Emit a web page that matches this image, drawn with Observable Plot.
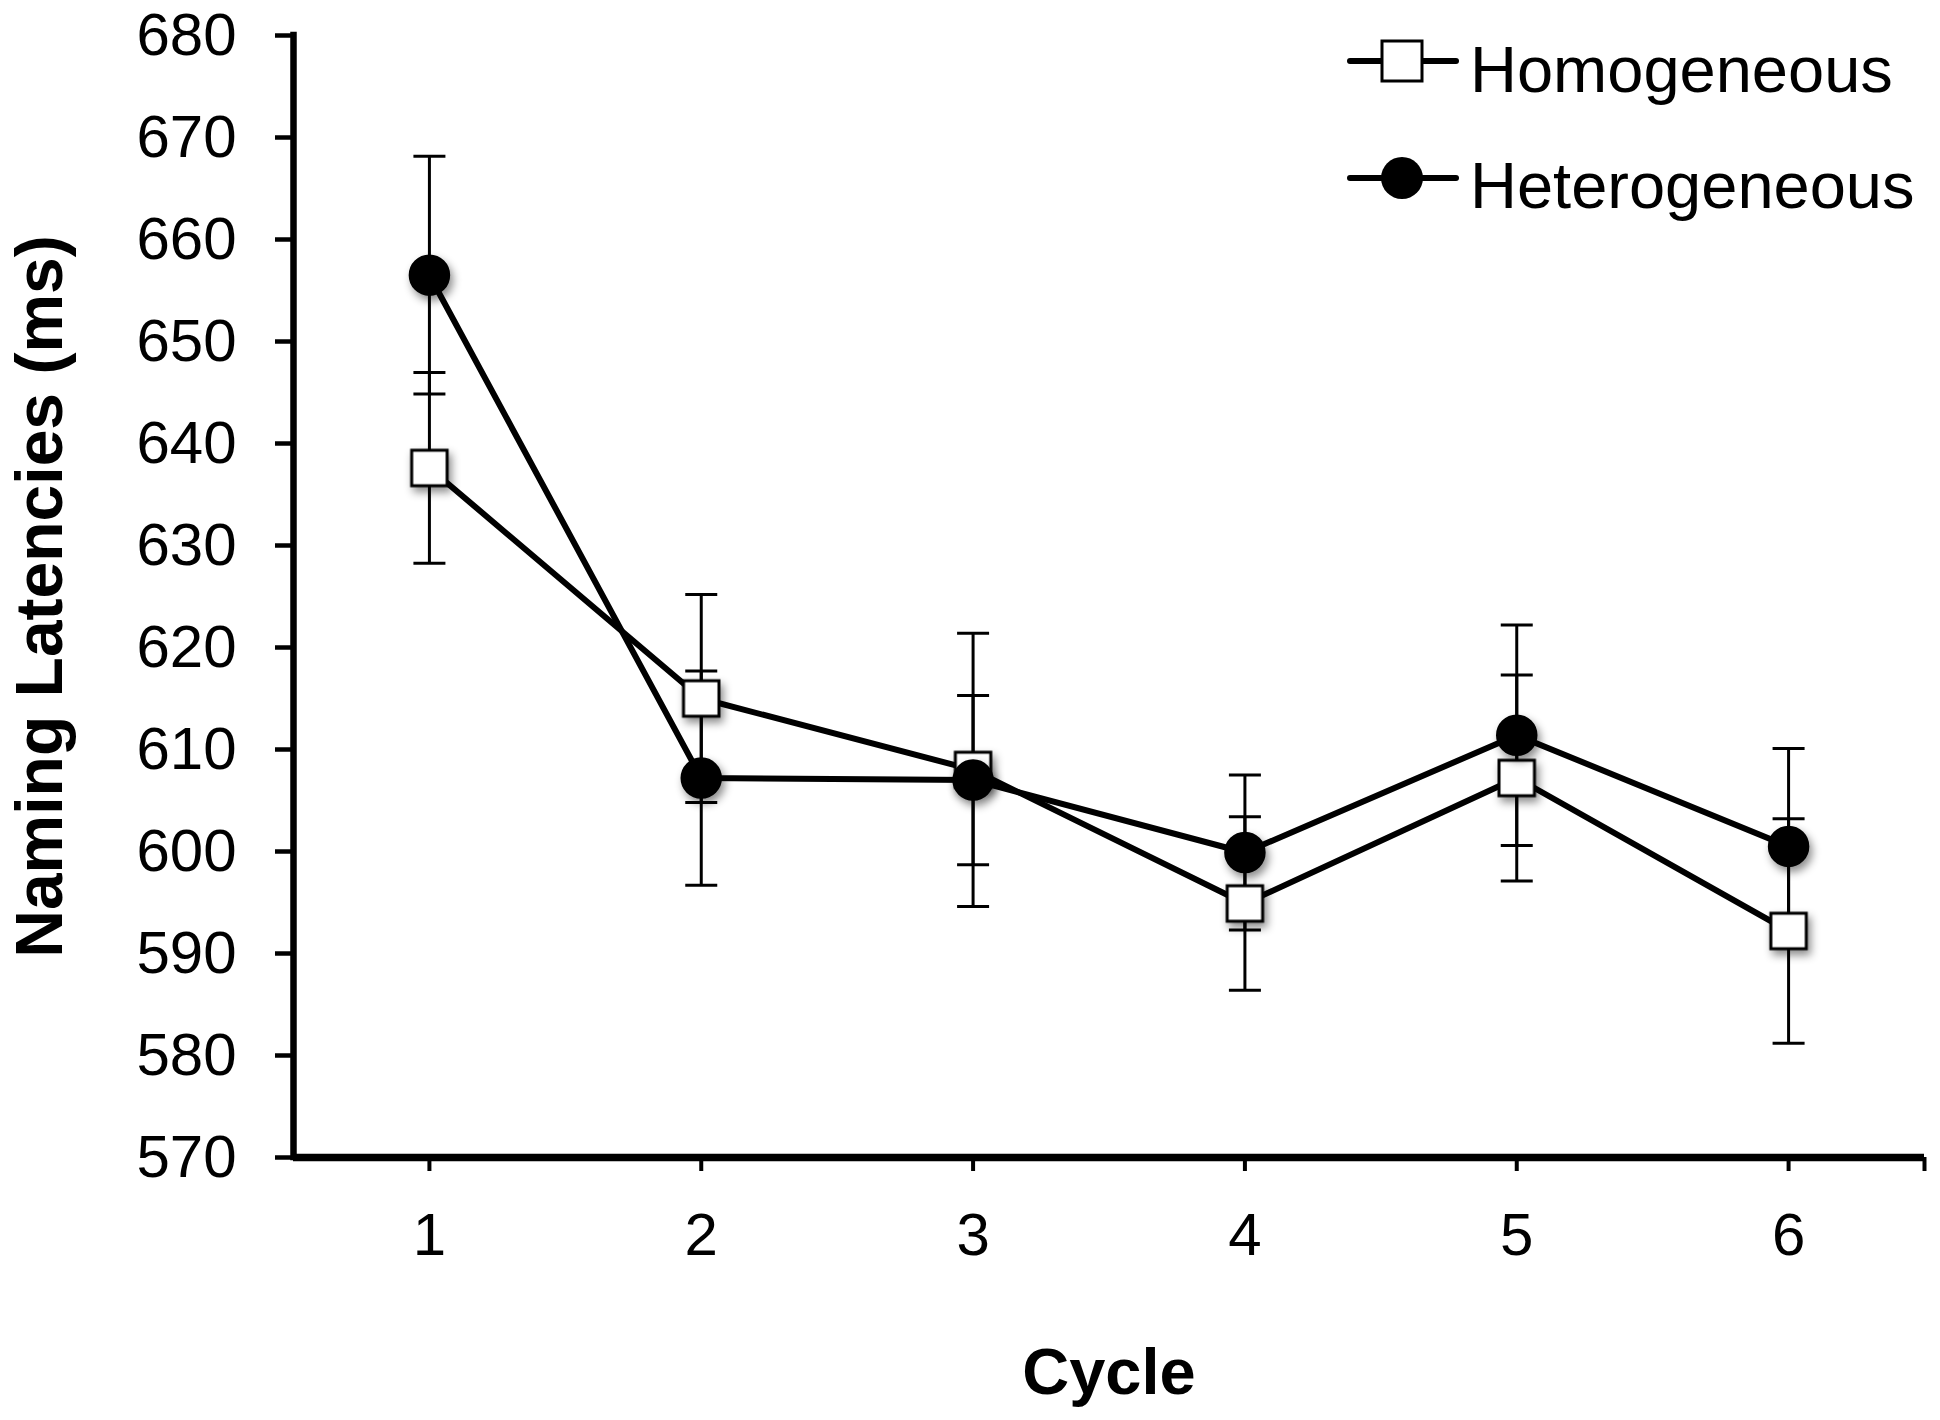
<!DOCTYPE html>
<html>
<head>
<meta charset="utf-8">
<script src="https://cdn.jsdelivr.net/npm/d3@7"></script>
<script src="https://cdn.jsdelivr.net/npm/@observablehq/plot@0.6"></script>
<style>
  html, body { margin: 0; padding: 0; background: #fff; }
  #wrap { position: relative; width: 1940px; height: 1420px; font-family: "Liberation Sans", Arial, sans-serif; }
  #legend { position: absolute; left: 0; top: 0; pointer-events: none; }
</style>
</head>
<body>
<div id="wrap"></div>
<script>
// ---- data ----
const cycles = [1, 2, 3, 4, 5, 6];
const homogeneousMean = [637.6, 615.0, 608.0, 594.9, 607.2, 592.2];
const homogeneousErr  = [9.35, 10.2, 13.4, 8.5, 10.1, 11.0];
const heterogeneousMean = [656.5, 607.2, 607.0, 599.9, 611.4, 600.5];
const heterogeneousErr  = [11.65, 10.5, 8.3, 7.6, 10.8, 9.6];
const yTicks = [570, 580, 590, 600, 610, 620, 630, 640, 650, 660, 670, 680];
const xTicks = [1, 2, 3, 4, 5, 6];
const seriesNames = ["Homogeneous", "Heterogeneous"];
const yTitle = "Naming Latencies (ms)";
const xTitle = "Cycle";

// table built from arrays
const rows = [];
cycles.forEach((c, i) => {
  rows.push({series: seriesNames[0], x: c, y: homogeneousMean[i], lo: homogeneousMean[i] - homogeneousErr[i], hi: homogeneousMean[i] + homogeneousErr[i]});
});
cycles.forEach((c, i) => {
  rows.push({series: seriesNames[1], x: c, y: heterogeneousMean[i], lo: heterogeneousMean[i] - heterogeneousErr[i], hi: heterogeneousMean[i] + heterogeneousErr[i]});
});
const hom = rows.filter(d => d.series === seriesNames[0]);
const het = rows.filter(d => d.series === seriesNames[1]);

// horizontal cap symbol for error bars
const capSymbol = {
  draw(context, size) {
    const w = Math.sqrt(size / Math.PI);
    context.moveTo(-w, 0);
    context.lineTo(w, 0);
  }
};

const chart = Plot.plot({
  width: 1940,
  height: 1420,
  marginLeft: 293,
  marginRight: 16,
  marginTop: 35,
  marginBottom: 263,
  style: {fontFamily: "Liberation Sans, Arial, sans-serif", fontSize: "60px", color: "black", background: "white"},
  x: {domain: [0.5, 6.5]},
  y: {domain: [570, 680]},
  marks: [
    // axes
    Plot.axisY({ticks: yTicks, tickSize: 18, tickPadding: 39, strokeWidth: 4.5, fontSize: 60, label: null}),
    Plot.axisX({ticks: [...xTicks, 6.5], tickFormat: d => Number.isInteger(d) ? String(d) : "", tickSize: 14, tickPadding: 41, strokeWidth: 4, fontSize: 60, label: null}),
    Plot.ruleX([0.5], {stroke: "black", strokeWidth: 6.5, strokeLinecap: "square"}),
    Plot.ruleY([570], {stroke: "black", strokeWidth: 7.5}),
    // error bars
    Plot.ruleX(rows, {x: "x", y1: "lo", y2: "hi", stroke: "black", strokeWidth: 3}),
    Plot.dot(rows, {x: "x", y: "lo", symbol: capSymbol, r: 16, stroke: "black", strokeWidth: 3, fill: "none"}),
    Plot.dot(rows, {x: "x", y: "hi", symbol: capSymbol, r: 16, stroke: "black", strokeWidth: 3, fill: "none"}),
    // lines
    Plot.line(hom, {x: "x", y: "y", stroke: "black", strokeWidth: 6}),
    Plot.line(het, {x: "x", y: "y", stroke: "black", strokeWidth: 6}),
    // markers
    Plot.dot(hom, {x: "x", y: "y", symbol: "square", r: 20, fill: "white", stroke: "black", strokeWidth: 3, ariaDescription: "marker"}),
    Plot.dot(het, {x: "x", y: "y", symbol: "circle", r: 19.5, fill: "black", stroke: "black", strokeWidth: 2.5, ariaDescription: "marker"}),
    // axis titles
    Plot.text([yTitle], {frameAnchor: "left", text: d => d, rotate: -90, dx: -232, textAnchor: "middle", lineAnchor: "bottom", fontSize: 66, fontWeight: "bold", fill: "black"}),
    Plot.text([xTitle], {frameAnchor: "bottom", text: d => d, dy: 236, textAnchor: "middle", lineAnchor: "bottom", fontSize: 65, fontWeight: "bold", fill: "black"})
  ]
});

chart.querySelectorAll('g[aria-description="marker"]').forEach(g => {
  g.style.filter = "drop-shadow(3px 5px 4px rgba(0,0,0,0.45))";
});

const wrap = document.getElementById("wrap");
wrap.appendChild(chart);

// legend
const ns = "http://www.w3.org/2000/svg";
const leg = document.createElementNS(ns, "svg");
leg.setAttribute("id", "legend");
leg.setAttribute("width", 1940);
leg.setAttribute("height", 260);
const legendRows = [
  {name: seriesNames[0], symbol: "square", lineY: 61, textY: 92},
  {name: seriesNames[1], symbol: "circle", lineY: 178, textY: 208}
];
legendRows.forEach(r => {
  const line = document.createElementNS(ns, "line");
  line.setAttribute("x1", 1350); line.setAttribute("x2", 1456);
  line.setAttribute("y1", r.lineY); line.setAttribute("y2", r.lineY);
  line.setAttribute("stroke", "black"); line.setAttribute("stroke-width", 6);
  line.setAttribute("stroke-linecap", "round");
  leg.appendChild(line);
  if (r.symbol === "square") {
    const s = document.createElementNS(ns, "rect");
    s.setAttribute("x", 1402 - 20); s.setAttribute("y", r.lineY - 20);
    s.setAttribute("width", 40); s.setAttribute("height", 40);
    s.setAttribute("fill", "white"); s.setAttribute("stroke", "black"); s.setAttribute("stroke-width", 3);
    leg.appendChild(s);
  } else {
    const c = document.createElementNS(ns, "circle");
    c.setAttribute("cx", 1402); c.setAttribute("cy", r.lineY); c.setAttribute("r", 21);
    c.setAttribute("fill", "black");
    leg.appendChild(c);
  }
  const t = document.createElementNS(ns, "text");
  t.setAttribute("x", 1470); t.setAttribute("y", r.textY);
  t.setAttribute("font-size", 65);
  t.setAttribute("font-family", "Liberation Sans, Arial, sans-serif");
  t.setAttribute("fill", "black");
  t.textContent = r.name;
  leg.appendChild(t);
});
wrap.appendChild(leg);
</script>
</body>
</html>
